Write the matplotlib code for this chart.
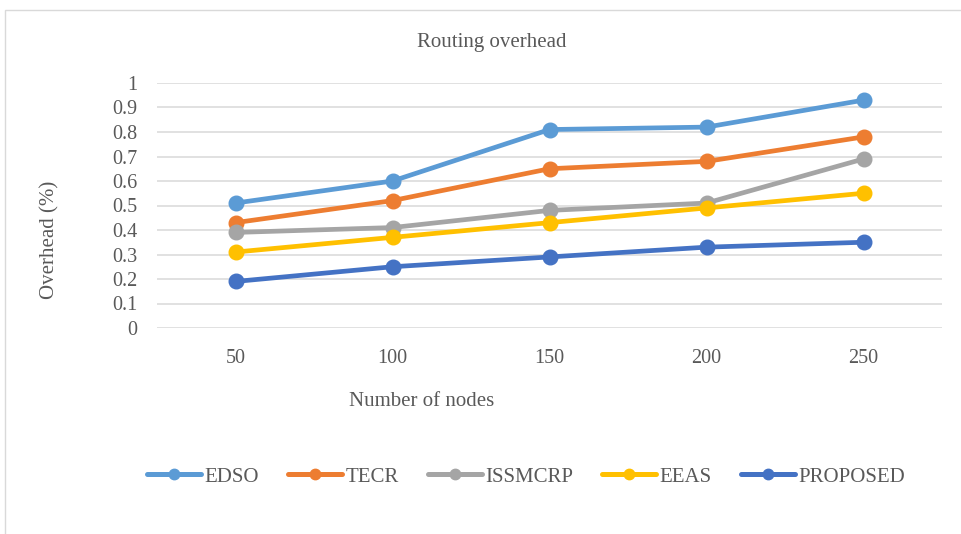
import matplotlib
matplotlib.use("Agg")
import matplotlib.pyplot as plt
from matplotlib.patches import Rectangle
from matplotlib.lines import Line2D

# Data
nodes = ["50", "100", "150", "200", "250"]
edso = [0.51, 0.60, 0.81, 0.82, 0.93]
tecr = [0.43, 0.52, 0.65, 0.68, 0.78]
issmcrp = [0.39, 0.41, 0.48, 0.51, 0.69]
eeas = [0.31, 0.37, 0.43, 0.49, 0.55]
proposed = [0.19, 0.25, 0.29, 0.33, 0.35]
series_names = ["EDSO", "TECR", "ISSMCRP", "EEAS", "PROPOSED"]
y_ticks = [0, 0.1, 0.2, 0.3, 0.4, 0.5, 0.6, 0.7, 0.8, 0.9, 1]
y_tick_labels = ["0", "0.1", "0.2", "0.3", "0.4", "0.5", "0.6", "0.7", "0.8", "0.9", "1"]

colors = ["#5B9BD5", "#ED7D31", "#A5A5A5", "#FFC000", "#4472C4"]
text_color = "#595959"

plt.rcParams["font.family"] = ["Liberation Serif", "DejaVu Serif"]

W, H = 962, 534
fig = plt.figure(figsize=(W / 100, H / 100), dpi=100)

# chart-area frame
fig.patches.append(Rectangle((5 / W, -0.05), 1.2, 1 - 9.5 / H + 0.05,
                             transform=fig.transFigure, fill=False,
                             edgecolor="#D9D9D9", linewidth=1.0))

left, right, top, bottom = 157, 942, 83, 328
ax = fig.add_axes([left / W, 1 - bottom / H, (right - left) / W, (bottom - top) / H])

x = list(range(len(nodes)))
for vals, name, c in zip([edso, tecr, issmcrp, eeas, proposed], series_names, colors):
    ax.plot(x, vals, color=c, linewidth=3.4, marker="o", markersize=10.5,
            solid_capstyle="round", label=name, zorder=3)

ax.set_xlim(-0.5, len(nodes) - 0.5)
ax.set_ylim(0, 1)
ax.set_xticks(x)
ax.set_xticklabels(nodes)
ax.set_yticks(y_ticks)
ax.set_yticklabels(y_tick_labels)
ax.tick_params(axis="both", length=0, labelsize=14.5, colors=text_color)
ax.tick_params(axis="y", pad=14)
ax.tick_params(axis="x", pad=15)
for s in ax.spines.values():
    s.set_visible(False)
ax.grid(axis="y", color="#D9D9D9", linewidth=1.1, zorder=0)
ax.set_axisbelow(True)

fig.text(492 / W, 1 - 43 / H, "Routing overhead", ha="center", va="center",
         fontsize=15, color=text_color)
fig.text(422 / W, 1 - 401 / H, "Number of nodes", ha="center", va="center",
         fontsize=15, color=text_color)
fig.text(50 / W, 1 - 240 / H, "Overhead (%)", ha="center", va="center",
         rotation=90, fontsize=15, color=text_color)

handles = [Line2D([], [], color=c, linewidth=3.6, marker="o", markersize=7.5,
                  solid_capstyle="round") for c in colors]
leg = fig.legend(handles, series_names, loc="center", bbox_to_anchor=(526 / W, 1 - 477 / H),
                 ncol=5, frameon=False, fontsize=15, handlelength=2.6,
                 handletextpad=0.15, columnspacing=1.4, labelcolor=text_color)

fig.savefig("out.png", dpi=100)
